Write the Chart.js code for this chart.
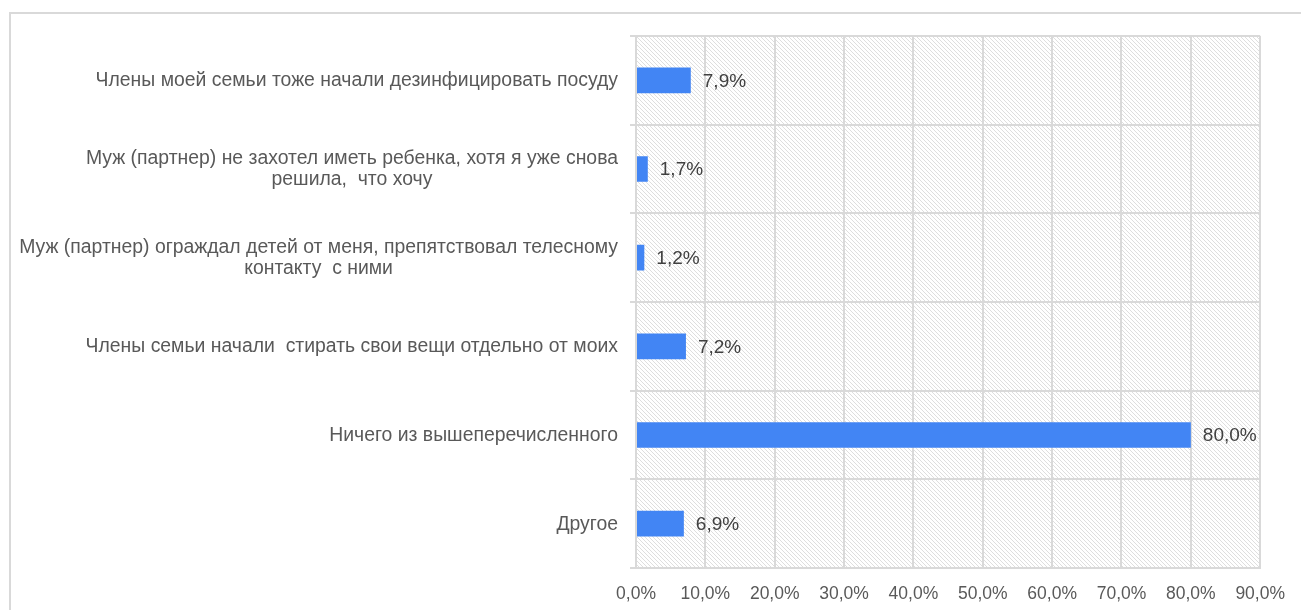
<!DOCTYPE html>
<html>
<head>
<meta charset="utf-8">
<script src="https://cdn.jsdelivr.net/npm/chart.js@4/dist/chart.umd.min.js"></script>
<style>
  html, body { margin: 0; padding: 0; background: #fff; }
  #wrap { width: 1301px; height: 610px; }
</style>
</head>
<body>
<div id="wrap"><canvas id="myChart" width="1301" height="610"></canvas></div>
<script>
// categories (multi-line ones split as in the picture)
const categories = [
    ['Члены моей семьи тоже начали дезинфицировать посуду'],
    ['Муж (партнер) не захотел иметь ребенка, хотя я уже снова', 'решила,  что хочу'],
    ['Муж (партнер) ограждал детей от меня, препятствовал телесному', 'контакту  с ними'],
    ['Члены семьи начали  стирать свои вещи отдельно от моих'],
    ['Ничего из вышеперечисленного'],
    ['Другое']
];
const values = [7.9, 1.7, 1.2, 7.2, 80.0, 6.9];
const xTicks = [0, 10, 20, 30, 40, 50, 60, 70, 80, 90];

const fontFamily = '"Liberation Sans", Arial, sans-serif';
const gridColor = '#d9d9d9';

function fmt(v) {
    return v.toFixed(1).replace('.', ',') + '%';
}

function makeHatch() {
    const c = document.createElement('canvas');
    c.width = 4;
    c.height = 4;
    const g = c.getContext('2d');
    g.fillStyle = '#ffffff';
    g.fillRect(0, 0, 4, 4);
    g.strokeStyle = '#dedede';
    g.lineWidth = 1;
    g.beginPath();
    g.moveTo(-1, -1); g.lineTo(5, 5);
    g.moveTo(-1, 3); g.lineTo(1, 5);
    g.moveTo(3, -1); g.lineTo(5, 1);
    g.stroke();
    return c;
}

const backgroundPlugin = {
    id: 'background',
    beforeDraw(chart) {
        const ctx = chart.ctx;
        const a = chart.chartArea;
        ctx.save();
        // outer frame
        ctx.strokeStyle = gridColor;
        ctx.lineWidth = 2;
        ctx.beginPath();
        ctx.moveTo(10, 640);
        ctx.lineTo(10, 13);
        ctx.lineTo(1320, 13);
        ctx.stroke();
        // hatched plot area
        ctx.fillStyle = ctx.createPattern(makeHatch(), 'repeat');
        ctx.fillRect(a.left, a.top, a.right - a.left, a.bottom - a.top);
        ctx.restore();
    }
};

const labelsPlugin = {
    id: 'labels',
    afterDatasetsDraw(chart) {
        const ctx = chart.ctx;
        const yScale = chart.scales.y;
        ctx.save();
        // category labels: block right aligned, lines centred within block
        ctx.font = '19.4px ' + fontFamily;
        ctx.fillStyle = '#595959';
        ctx.textAlign = 'center';
        ctx.textBaseline = 'middle';
        const right = 618;
        const lineH = 21;
        categories.forEach((lines, i) => {
            const y = yScale.getPixelForTick(i);
            const w = Math.max(...lines.map(l => ctx.measureText(l).width));
            const top = y - (lines.length - 1) * lineH / 2 + 0.5;
            lines.forEach((l, j) => ctx.fillText(l, right - w / 2, top + j * lineH));
        });
        // value labels
        ctx.font = '19px ' + fontFamily;
        ctx.fillStyle = '#404040';
        ctx.textAlign = 'left';
        const meta = chart.getDatasetMeta(0);
        meta.data.forEach((bar, i) => {
            ctx.fillText(fmt(values[i]), bar.x + 12, bar.y + 1);
        });
        ctx.restore();
    }
};

new Chart(document.getElementById('myChart').getContext('2d'), {
    type: 'bar',
    data: {
        labels: categories,
        datasets: [{
            data: values,
            backgroundColor: '#4285f4',
            borderWidth: 0,
            barPercentage: 0.29,
            categoryPercentage: 1
        }]
    },
    options: {
        indexAxis: 'y',
        responsive: false,
        animation: false,
        layout: {
            padding: { top: 36, right: 39, bottom: 0, left: 0 }
        },
        plugins: {
            legend: { display: false },
            tooltip: { enabled: false }
        },
        scales: {
            x: {
                min: 0,
                max: 90,
                afterFit: s => { s.height = 42; },
                afterBuildTicks: s => { s.ticks = xTicks.map(v => ({ value: v })); },
                grid: { color: gridColor, lineWidth: 2, drawTicks: false },
                border: { color: gridColor, width: 2 },
                ticks: {
                    padding: 16,
                    color: '#595959',
                    font: { family: fontFamily, size: 17.5 },
                    maxRotation: 0,
                    callback: v => fmt(v)
                }
            },
            y: {
                afterFit: s => { s.width = 636; },
                grid: { color: gridColor, lineWidth: 2, offset: true, tickLength: 6 },
                border: { color: gridColor, width: 2 },
                ticks: { display: false }
            }
        }
    },
    plugins: [backgroundPlugin, labelsPlugin]
});
</script>
</body>
</html>
